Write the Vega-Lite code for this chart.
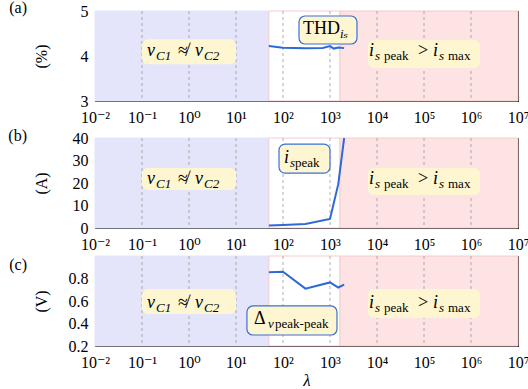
{
  "$schema": "https://vega.github.io/schema/vega-lite/v6.json",
  "padding": {"left": 8, "top": 0, "right": 0, "bottom": 0},
  "spacing": 0,
  "datasets": {
    "regions": [
      {"x": 0.01, "x2": 50, "zone": "equal"},
      {"x": 50, "x2": 1630, "zone": "ok"},
      {"x": 1630, "x2": 10000000, "zone": "over"}
    ],
    "grid": [{"x": 0.1}, {"x": 1}, {"x": 10}, {"x": 100}, {"x": 1000}, {"x": 10000}, {"x": 100000}, {"x": 1000000}],
    "thd": [
      {"lambda": 50, "v": 4.22}, {"lambda": 100, "v": 4.185}, {"lambda": 300, "v": 4.17}, {"lambda": 700, "v": 4.18},
      {"lambda": 1000, "v": 4.22}, {"lambda": 1200, "v": 4.165}, {"lambda": 1500, "v": 4.19}, {"lambda": 2000, "v": 4.175}
    ],
    "ipeak": [
      {"lambda": 50, "v": 1.1}, {"lambda": 100, "v": 1.3}, {"lambda": 300, "v": 1.8},
      {"lambda": 1000, "v": 4.0}, {"lambda": 1500, "v": 19.5}, {"lambda": 2000, "v": 40}
    ],
    "dv": [
      {"lambda": 50, "v": 0.855}, {"lambda": 100, "v": 0.86}, {"lambda": 300, "v": 0.71},
      {"lambda": 1000, "v": 0.765}, {"lambda": 1500, "v": 0.72}, {"lambda": 2000, "v": 0.745}
    ],
    "boxes_a": [
      {"x": 0.1, "x2": 10, "y": 3.815, "y2": 4.37, "kind": "zone"},
      {"x": 6435, "x2": 1554000, "y": 3.733, "y2": 4.356, "kind": "zone"},
      {"x": 219, "x2": 3750, "y": 4.267, "y2": 4.889, "kind": "tag"}
    ],
    "boxes_b": [
      {"x": 0.1, "x2": 10, "y": 16.9, "y2": 26.7, "kind": "zone"},
      {"x": 6435, "x2": 1554000, "y": 14.7, "y2": 26.7, "kind": "zone"},
      {"x": 82.2, "x2": 1000, "y": 24.4, "y2": 37.3, "kind": "tag"}
    ],
    "boxes_c": [
      {"x": 0.1, "x2": 10, "y": 0.484, "y2": 0.707, "kind": "zone"},
      {"x": 6435, "x2": 1554000, "y": 0.449, "y2": 0.707, "kind": "zone"},
      {"x": 17.1, "x2": 1409, "y": 0.298, "y2": 0.556, "kind": "tag"}
    ],
    "text_a": [
      {"t": "v", "x": 0.1278, "y": 4.0, "role": "symbol"},
      {"t": "C1", "x": 0.1986, "y": 4.0, "role": "index"},
      {"t": "≉", "x": 0.583, "y": 4.0, "role": "operator"},
      {"t": "v", "x": 1.342, "y": 4.0, "role": "symbol"},
      {"t": "C2", "x": 2.084, "y": 4.0, "role": "index"},
      {"t": "i", "x": 6757, "y": 4.0, "role": "symbol"},
      {"t": "s", "x": 9066, "y": 4.0, "role": "index"},
      {"t": "peak", "x": 14090, "y": 4.0, "role": "word"},
      {"t": ">", "x": 74520, "y": 4.0, "role": "operator"},
      {"t": "i", "x": 155400, "y": 4.0, "role": "symbol"},
      {"t": "s", "x": 208500, "y": 4.0, "role": "index"},
      {"t": "max", "x": 324000, "y": 4.0, "role": "word"},
      {"t": "THD", "x": 266.5, "y": 4.489, "role": "operator"},
      {"t": "iₛ", "x": 1632, "y": 4.489, "role": "index"}
    ],
    "text_b": [
      {"t": "v", "x": 0.1278, "y": 19.6, "role": "symbol"},
      {"t": "C1", "x": 0.1986, "y": 19.6, "role": "index"},
      {"t": "≉", "x": 0.583, "y": 19.6, "role": "operator"},
      {"t": "v", "x": 1.342, "y": 19.6, "role": "symbol"},
      {"t": "C2", "x": 2.084, "y": 19.6, "role": "index"},
      {"t": "i", "x": 6757, "y": 19.6, "role": "symbol"},
      {"t": "s", "x": 9066, "y": 19.6, "role": "index"},
      {"t": "peak", "x": 14090, "y": 19.6, "role": "word"},
      {"t": ">", "x": 74520, "y": 19.6, "role": "operator"},
      {"t": "i", "x": 155400, "y": 19.6, "role": "symbol"},
      {"t": "s", "x": 208500, "y": 19.6, "role": "index"},
      {"t": "max", "x": 324000, "y": 19.6, "role": "word"},
      {"t": "i", "x": 105, "y": 28.9, "role": "symbol"},
      {"t": "s", "x": 141, "y": 28.9, "role": "index"},
      {"t": "peak", "x": 180, "y": 28.9, "role": "word"}
    ],
    "text_c": [
      {"t": "v", "x": 0.1278, "y": 0.535, "role": "symbol"},
      {"t": "C1", "x": 0.1986, "y": 0.535, "role": "index"},
      {"t": "≉", "x": 0.583, "y": 0.535, "role": "operator"},
      {"t": "v", "x": 1.342, "y": 0.535, "role": "symbol"},
      {"t": "C2", "x": 2.084, "y": 0.535, "role": "index"},
      {"t": "i", "x": 6757, "y": 0.535, "role": "symbol"},
      {"t": "s", "x": 9066, "y": 0.535, "role": "index"},
      {"t": "peak", "x": 14090, "y": 0.535, "role": "word"},
      {"t": ">", "x": 74520, "y": 0.535, "role": "operator"},
      {"t": "i", "x": 155400, "y": 0.535, "role": "symbol"},
      {"t": "s", "x": 208500, "y": 0.535, "role": "index"},
      {"t": "max", "x": 324000, "y": 0.535, "role": "word"},
      {"t": "Δ", "x": 24.2, "y": 0.396, "role": "operator"},
      {"t": "v", "x": 48, "y": 0.396, "role": "index"},
      {"t": "peak-peak", "x": 67.6, "y": 0.396, "role": "word"}
    ]
  },
  "vconcat": [
    {
      "width": 423, "height": 90,
      "title": {"text": "(a)", "orient": "left", "anchor": "end", "angle": 0, "align": "left", "baseline": "middle", "offset": 6, "dy": -3},
      "resolve": {"axis": {"x": "independent", "y": "independent"}},
      "layer": [
        {"data": {"name": "regions"}, "mark": {"type": "rect", "strokeWidth": 1},
         "encoding": {
           "x": {"field": "x", "type": "quantitative", "scale": {"type": "log", "domain": [0.01, 10000000], "nice": false},
                 "axis": {"orient": "bottom", "values": [0.01,0.02,0.03,0.04,0.05,0.06,0.07,0.08,0.09,0.1,0.2,0.3,0.4,0.5,0.6,0.7,0.8,0.9,1,2,3,4,5,6,7,8,9,10,20,30,40,50,60,70,80,90,100,200,300,400,500,600,700,800,900,1000,2000,3000,4000,5000,6000,7000,8000,9000,10000,20000,30000,40000,50000,60000,70000,80000,90000,100000,200000,300000,400000,500000,600000,700000,800000,900000,1000000,2000000,3000000,4000000,5000000,6000000,7000000,8000000,9000000,10000000],
                          "labelExpr": "abs(log(datum.value)/LN10 - round(log(datum.value)/LN10)) < 0.001 ? ['10⁻²','10⁻¹','10⁰','10¹','10²','10³','10⁴','10⁵','10⁶','10⁷'][round(log(datum.value)/LN10)+2] : ''",
                          "labelOverlap": false, "labelFlush": false, "labelPadding": 14,
                          "tickSize": {"condition": {"test": "abs(log(datum.value)/LN10 - round(log(datum.value)/LN10)) < 0.001", "value": -6}, "value": -3.5},
                          "title": null}},
           "x2": {"field": "x2"},
           "fill": {"field": "zone", "type": "nominal", "scale": {"domain": ["equal", "ok", "over"], "range": ["#e4e4fa", "#ffffff", "#fde3e3"]}, "legend": null},
           "stroke": {"field": "zone", "type": "nominal", "scale": {"domain": ["equal", "ok", "over"], "range": ["#e4e4fa", "#f6cccc", "#f6cccc"]}, "legend": null}
         }},
        {"data": {"name": "grid"}, "mark": {"type": "rule", "color": "#9a9a9a", "strokeDash": [3, 3], "strokeWidth": 0.8},
         "encoding": {"x": {"field": "x", "type": "quantitative", "axis": null}}},
        {"data": {"name": "thd"}, "mark": {"type": "line", "color": "#2d69d7", "strokeWidth": 2, "clip": true},
         "encoding": {
           "x": {"field": "lambda", "type": "quantitative",
                 "axis": {"orient": "top", "labels": false, "title": null, "values": [0.01,0.02,0.03,0.04,0.05,0.06,0.07,0.08,0.09,0.1,0.2,0.3,0.4,0.5,0.6,0.7,0.8,0.9,1,2,3,4,5,6,7,8,9,10,20,30,40,50,60,70,80,90,100,200,300,400,500,600,700,800,900,1000,2000,3000,4000,5000,6000,7000,8000,9000,10000,20000,30000,40000,50000,60000,70000,80000,90000,100000,200000,300000,400000,500000,600000,700000,800000,900000,1000000,2000000,3000000,4000000,5000000,6000000,7000000,8000000,9000000,10000000],
                          "tickSize": {"condition": {"test": "abs(log(datum.value)/LN10 - round(log(datum.value)/LN10)) < 0.001", "value": -6}, "value": -3.5}}},
           "y": {"field": "v", "type": "quantitative", "scale": {"domain": [3, 5], "nice": false, "zero": false},
                 "axis": {"orient": "left", "values": [3, 4, 5], "labelExpr": "format(datum.value, 'd')", "labelOverlap": false, "tickSize": -4, "labelPadding": 11, "title": "(%)", "titleX": -46, "titleAngle": -90, "titleBaseline": "bottom"}}
         }},
        {"data": {"name": "boxes_a"}, "mark": {"type": "rect", "cornerRadius": 6, "fill": "#fdf6d0", "strokeWidth": 1.2},
         "encoding": {
           "x": {"field": "x", "type": "quantitative", "axis": null}, "x2": {"field": "x2"},
           "y": {"field": "y", "type": "quantitative", "axis": {"orient": "right", "values": [3, 4, 5], "labels": false, "tickSize": -4, "title": null}},
           "y2": {"field": "y2"},
           "stroke": {"condition": {"test": "datum.kind == 'tag'", "value": "#3d6fd6"}, "value": "transparent"}
         }},
        {"data": {"name": "text_a"}, "transform": [{"filter": "datum.role == 'symbol'"}],
         "mark": {"type": "text", "align": "left", "baseline": "alphabetic", "fontSize": 18, "fontStyle": "italic", "color": "#000"},
         "encoding": {"x": {"field": "x", "type": "quantitative", "axis": null}, "y": {"field": "y", "type": "quantitative", "axis": null}, "text": {"field": "t"}}},
        {"data": {"name": "text_a"}, "transform": [{"filter": "datum.role == 'operator'"}],
         "mark": {"type": "text", "align": "left", "baseline": "alphabetic", "fontSize": 18, "color": "#000"},
         "encoding": {"x": {"field": "x", "type": "quantitative", "axis": null}, "y": {"field": "y", "type": "quantitative", "axis": null}, "text": {"field": "t"}}},
        {"data": {"name": "text_a"}, "transform": [{"filter": "datum.role == 'index'"}],
         "mark": {"type": "text", "align": "left", "baseline": "alphabetic", "fontSize": 13, "fontStyle": "italic", "dy": 4, "color": "#000"},
         "encoding": {"x": {"field": "x", "type": "quantitative", "axis": null}, "y": {"field": "y", "type": "quantitative", "axis": null}, "text": {"field": "t"}}},
        {"data": {"name": "text_a"}, "transform": [{"filter": "datum.role == 'word'"}],
         "mark": {"type": "text", "align": "left", "baseline": "alphabetic", "fontSize": 13, "dy": 4, "color": "#000"},
         "encoding": {"x": {"field": "x", "type": "quantitative", "axis": null}, "y": {"field": "y", "type": "quantitative", "axis": null}, "text": {"field": "t"}}}
      ]
    },
    {
      "width": 423, "height": 90,
      "title": {"text": "(b)", "orient": "left", "anchor": "end", "angle": 0, "align": "left", "baseline": "middle", "offset": 6, "dy": -2},
      "resolve": {"axis": {"x": "independent", "y": "independent"}},
      "layer": [
        {"data": {"name": "regions"}, "mark": {"type": "rect", "strokeWidth": 1},
         "encoding": {
           "x": {"field": "x", "type": "quantitative", "scale": {"type": "log", "domain": [0.01, 10000000], "nice": false},
                 "axis": {"orient": "bottom", "values": [0.01,0.02,0.03,0.04,0.05,0.06,0.07,0.08,0.09,0.1,0.2,0.3,0.4,0.5,0.6,0.7,0.8,0.9,1,2,3,4,5,6,7,8,9,10,20,30,40,50,60,70,80,90,100,200,300,400,500,600,700,800,900,1000,2000,3000,4000,5000,6000,7000,8000,9000,10000,20000,30000,40000,50000,60000,70000,80000,90000,100000,200000,300000,400000,500000,600000,700000,800000,900000,1000000,2000000,3000000,4000000,5000000,6000000,7000000,8000000,9000000,10000000],
                          "labelExpr": "abs(log(datum.value)/LN10 - round(log(datum.value)/LN10)) < 0.001 ? ['10⁻²','10⁻¹','10⁰','10¹','10²','10³','10⁴','10⁵','10⁶','10⁷'][round(log(datum.value)/LN10)+2] : ''",
                          "labelOverlap": false, "labelFlush": false, "labelPadding": 14,
                          "tickSize": {"condition": {"test": "abs(log(datum.value)/LN10 - round(log(datum.value)/LN10)) < 0.001", "value": -6}, "value": -3.5},
                          "title": null}},
           "x2": {"field": "x2"},
           "fill": {"field": "zone", "type": "nominal", "scale": {"domain": ["equal", "ok", "over"], "range": ["#e4e4fa", "#ffffff", "#fde3e3"]}, "legend": null},
           "stroke": {"field": "zone", "type": "nominal", "scale": {"domain": ["equal", "ok", "over"], "range": ["#e4e4fa", "#f6cccc", "#f6cccc"]}, "legend": null}
         }},
        {"data": {"name": "grid"}, "mark": {"type": "rule", "color": "#9a9a9a", "strokeDash": [3, 3], "strokeWidth": 0.8},
         "encoding": {"x": {"field": "x", "type": "quantitative", "axis": null}}},
        {"data": {"name": "ipeak"}, "mark": {"type": "line", "color": "#2d69d7", "strokeWidth": 2, "clip": true},
         "encoding": {
           "x": {"field": "lambda", "type": "quantitative",
                 "axis": {"orient": "top", "labels": false, "title": null, "values": [0.01,0.02,0.03,0.04,0.05,0.06,0.07,0.08,0.09,0.1,0.2,0.3,0.4,0.5,0.6,0.7,0.8,0.9,1,2,3,4,5,6,7,8,9,10,20,30,40,50,60,70,80,90,100,200,300,400,500,600,700,800,900,1000,2000,3000,4000,5000,6000,7000,8000,9000,10000,20000,30000,40000,50000,60000,70000,80000,90000,100000,200000,300000,400000,500000,600000,700000,800000,900000,1000000,2000000,3000000,4000000,5000000,6000000,7000000,8000000,9000000,10000000],
                          "tickSize": {"condition": {"test": "abs(log(datum.value)/LN10 - round(log(datum.value)/LN10)) < 0.001", "value": -6}, "value": -3.5}}},
           "y": {"field": "v", "type": "quantitative", "scale": {"domain": [0, 40], "nice": false, "zero": false},
                 "axis": {"orient": "left", "values": [0, 10, 20, 30, 40], "labelOverlap": false, "tickSize": -4, "labelPadding": 11, "title": "(A)", "titleX": -46, "titleAngle": -90, "titleBaseline": "bottom"}}
         }},
        {"data": {"name": "boxes_b"}, "mark": {"type": "rect", "cornerRadius": 6, "fill": "#fdf6d0", "strokeWidth": 1.2},
         "encoding": {
           "x": {"field": "x", "type": "quantitative", "axis": null}, "x2": {"field": "x2"},
           "y": {"field": "y", "type": "quantitative", "axis": {"orient": "right", "values": [0, 10, 20, 30, 40], "labels": false, "tickSize": -4, "title": null}},
           "y2": {"field": "y2"},
           "stroke": {"condition": {"test": "datum.kind == 'tag'", "value": "#3d6fd6"}, "value": "transparent"}
         }},
        {"data": {"name": "text_b"}, "transform": [{"filter": "datum.role == 'symbol'"}],
         "mark": {"type": "text", "align": "left", "baseline": "alphabetic", "fontSize": 18, "fontStyle": "italic", "color": "#000"},
         "encoding": {"x": {"field": "x", "type": "quantitative", "axis": null}, "y": {"field": "y", "type": "quantitative", "axis": null}, "text": {"field": "t"}}},
        {"data": {"name": "text_b"}, "transform": [{"filter": "datum.role == 'operator'"}],
         "mark": {"type": "text", "align": "left", "baseline": "alphabetic", "fontSize": 18, "color": "#000"},
         "encoding": {"x": {"field": "x", "type": "quantitative", "axis": null}, "y": {"field": "y", "type": "quantitative", "axis": null}, "text": {"field": "t"}}},
        {"data": {"name": "text_b"}, "transform": [{"filter": "datum.role == 'index'"}],
         "mark": {"type": "text", "align": "left", "baseline": "alphabetic", "fontSize": 13, "fontStyle": "italic", "dy": 4, "color": "#000"},
         "encoding": {"x": {"field": "x", "type": "quantitative", "axis": null}, "y": {"field": "y", "type": "quantitative", "axis": null}, "text": {"field": "t"}}},
        {"data": {"name": "text_b"}, "transform": [{"filter": "datum.role == 'word'"}],
         "mark": {"type": "text", "align": "left", "baseline": "alphabetic", "fontSize": 13, "dy": 4, "color": "#000"},
         "encoding": {"x": {"field": "x", "type": "quantitative", "axis": null}, "y": {"field": "y", "type": "quantitative", "axis": null}, "text": {"field": "t"}}}
      ]
    },
    {
      "width": 423, "height": 90,
      "title": {"text": "(c)", "orient": "left", "anchor": "end", "angle": 0, "align": "left", "baseline": "middle", "offset": 6, "dy": 9},
      "resolve": {"axis": {"x": "independent", "y": "independent"}},
      "layer": [
        {"data": {"name": "regions"}, "mark": {"type": "rect", "strokeWidth": 1},
         "encoding": {
           "x": {"field": "x", "type": "quantitative", "scale": {"type": "log", "domain": [0.01, 10000000], "nice": false},
                 "axis": {"orient": "bottom", "values": [0.01,0.02,0.03,0.04,0.05,0.06,0.07,0.08,0.09,0.1,0.2,0.3,0.4,0.5,0.6,0.7,0.8,0.9,1,2,3,4,5,6,7,8,9,10,20,30,40,50,60,70,80,90,100,200,300,400,500,600,700,800,900,1000,2000,3000,4000,5000,6000,7000,8000,9000,10000,20000,30000,40000,50000,60000,70000,80000,90000,100000,200000,300000,400000,500000,600000,700000,800000,900000,1000000,2000000,3000000,4000000,5000000,6000000,7000000,8000000,9000000,10000000],
                          "labelExpr": "abs(log(datum.value)/LN10 - round(log(datum.value)/LN10)) < 0.001 ? ['10⁻²','10⁻¹','10⁰','10¹','10²','10³','10⁴','10⁵','10⁶','10⁷'][round(log(datum.value)/LN10)+2] : ''",
                          "labelOverlap": false, "labelFlush": false, "labelPadding": 14,
                          "tickSize": {"condition": {"test": "abs(log(datum.value)/LN10 - round(log(datum.value)/LN10)) < 0.001", "value": -6}, "value": -3.5},
                          "title": "λ", "titleFontStyle": "italic", "titleFontSize": 17, "titlePadding": 0}},
           "x2": {"field": "x2"},
           "fill": {"field": "zone", "type": "nominal", "scale": {"domain": ["equal", "ok", "over"], "range": ["#e4e4fa", "#ffffff", "#fde3e3"]}, "legend": null},
           "stroke": {"field": "zone", "type": "nominal", "scale": {"domain": ["equal", "ok", "over"], "range": ["#e4e4fa", "#f6cccc", "#f6cccc"]}, "legend": null}
         }},
        {"data": {"name": "grid"}, "mark": {"type": "rule", "color": "#9a9a9a", "strokeDash": [3, 3], "strokeWidth": 0.8},
         "encoding": {"x": {"field": "x", "type": "quantitative", "axis": null}}},
        {"data": {"name": "dv"}, "mark": {"type": "line", "color": "#2d69d7", "strokeWidth": 2, "clip": true},
         "encoding": {
           "x": {"field": "lambda", "type": "quantitative",
                 "axis": {"orient": "top", "labels": false, "title": null, "values": [0.01,0.02,0.03,0.04,0.05,0.06,0.07,0.08,0.09,0.1,0.2,0.3,0.4,0.5,0.6,0.7,0.8,0.9,1,2,3,4,5,6,7,8,9,10,20,30,40,50,60,70,80,90,100,200,300,400,500,600,700,800,900,1000,2000,3000,4000,5000,6000,7000,8000,9000,10000,20000,30000,40000,50000,60000,70000,80000,90000,100000,200000,300000,400000,500000,600000,700000,800000,900000,1000000,2000000,3000000,4000000,5000000,6000000,7000000,8000000,9000000,10000000],
                          "tickSize": {"condition": {"test": "abs(log(datum.value)/LN10 - round(log(datum.value)/LN10)) < 0.001", "value": -6}, "value": -3.5}}},
           "y": {"field": "v", "type": "quantitative", "scale": {"domain": [0.2, 1.0], "nice": false, "zero": false},
                 "axis": {"orient": "left", "values": [0.2, 0.4, 0.6, 0.8], "format": ".1f", "labelOverlap": false, "tickSize": -4, "labelPadding": 11, "title": "(V)", "titleX": -46, "titleAngle": -90, "titleBaseline": "bottom"}}
         }},
        {"data": {"name": "boxes_c"}, "mark": {"type": "rect", "cornerRadius": 6, "fill": "#fdf6d0", "strokeWidth": 1.2},
         "encoding": {
           "x": {"field": "x", "type": "quantitative", "axis": null}, "x2": {"field": "x2"},
           "y": {"field": "y", "type": "quantitative", "axis": {"orient": "right", "values": [0.2, 0.4, 0.6, 0.8], "labels": false, "tickSize": -4, "title": null}},
           "y2": {"field": "y2"},
           "stroke": {"condition": {"test": "datum.kind == 'tag'", "value": "#3d6fd6"}, "value": "transparent"}
         }},
        {"data": {"name": "text_c"}, "transform": [{"filter": "datum.role == 'symbol'"}],
         "mark": {"type": "text", "align": "left", "baseline": "alphabetic", "fontSize": 18, "fontStyle": "italic", "color": "#000"},
         "encoding": {"x": {"field": "x", "type": "quantitative", "axis": null}, "y": {"field": "y", "type": "quantitative", "axis": null}, "text": {"field": "t"}}},
        {"data": {"name": "text_c"}, "transform": [{"filter": "datum.role == 'operator'"}],
         "mark": {"type": "text", "align": "left", "baseline": "alphabetic", "fontSize": 18, "color": "#000"},
         "encoding": {"x": {"field": "x", "type": "quantitative", "axis": null}, "y": {"field": "y", "type": "quantitative", "axis": null}, "text": {"field": "t"}}},
        {"data": {"name": "text_c"}, "transform": [{"filter": "datum.role == 'index'"}],
         "mark": {"type": "text", "align": "left", "baseline": "alphabetic", "fontSize": 13, "fontStyle": "italic", "dy": 4, "color": "#000"},
         "encoding": {"x": {"field": "x", "type": "quantitative", "axis": null}, "y": {"field": "y", "type": "quantitative", "axis": null}, "text": {"field": "t"}}},
        {"data": {"name": "text_c"}, "transform": [{"filter": "datum.role == 'word'"}],
         "mark": {"type": "text", "align": "left", "baseline": "alphabetic", "fontSize": 13, "dy": 4, "color": "#000"},
         "encoding": {"x": {"field": "x", "type": "quantitative", "axis": null}, "y": {"field": "y", "type": "quantitative", "axis": null}, "text": {"field": "t"}}}
      ]
    }
  ],
  "config": {
    "font": "Liberation Serif, DejaVu Serif, serif",
    "view": {"stroke": null},
    "axis": {"labelFont": "Liberation Serif, DejaVu Serif, serif", "labelFontSize": 16, "labelColor": "#000", "titleFont": "Liberation Serif, DejaVu Serif, serif", "titleFontSize": 16, "titleFontWeight": "normal", "titleColor": "#000",
             "domainColor": "#000", "domainWidth": 1, "tickColor": "#000", "tickWidth": 0.8, "grid": false, "zindex": 1},
    "title": {"font": "Liberation Serif, DejaVu Serif, serif", "fontSize": 16, "fontWeight": "normal", "color": "#000", "frame": "group"}
  }
}
